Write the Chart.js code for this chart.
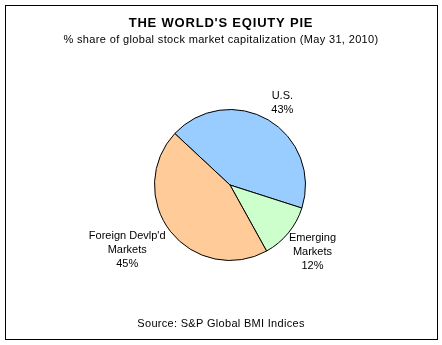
<!DOCTYPE html>
<html>
<head>
<meta charset="utf-8">
<script src="https://cdn.jsdelivr.net/npm/chart.js@4/dist/chart.umd.min.js"></script>
<style>
  html, body { margin: 0; padding: 0; background: #fff; }
  #wrap { width: 442px; height: 345px; }
</style>
</head>
<body>
<div id="wrap"><canvas id="pie"></canvas></div>
<script>
// 資料 (順序: 從左上方開始順時針)
const sliceNames = ['U.S.', 'Emerging\nMarkets', "Foreign Devlp'd\nMarkets"];
const sliceShares = [43, 12, 45];
const sliceColors = ['#99CCFF', '#CCFFCC', '#FFCC99'];

const chartTitle = "THE WORLD'S EQIUTY PIE";
const chartSubtitle = '% share of global stock market capitalization (May 31, 2010)';
const sourceNote = 'Source: S&P Global BMI Indices';

const FONT = "'Liberation Sans', Arial, sans-serif";

// 標籤微調 (像素)
const labelNudge = [[4, 3], [-1, 0], [-6, 0]];

// 標題 + 外框 + 來源 + 扇形標籤
const decorPlugin = {
  id: 'decor',
  afterDraw(chart) {
    const c = chart.ctx;
    c.save();
    // 外框
    c.strokeStyle = '#000';
    c.lineWidth = 1;
    c.strokeRect(5.5, 5.5, 432, 334);

    c.fillStyle = '#000';
    c.textAlign = 'center';
    c.textBaseline = 'middle';

    // 標題 (字距拉開)
    c.font = 'bold 13px ' + FONT;
    c.letterSpacing = '0.8px';
    c.fillText(chartTitle, 221, 23);

    c.font = '11px ' + FONT;
    c.letterSpacing = '0.35px';
    c.fillText(chartSubtitle, 221, 40);

    // 來源
    c.font = '11px ' + FONT;
    c.letterSpacing = '0.3px';
    c.fillText(sourceNote, 221, 324);

    // 扇形標籤 (放在圓外)
    c.font = '11px ' + FONT;
    c.letterSpacing = '0px';
    const meta = chart.getDatasetMeta(0);
    meta.data.forEach((arc, i) => {
      const p = arc.getProps(['x', 'y', 'startAngle', 'endAngle', 'outerRadius'], true);
      const mid = (p.startAngle + p.endAngle) / 2;
      const lines = (sliceNames[i] + '\n' + sliceShares[i] + '%').split('\n');
      const lh = 14;
      let w = 0;
      lines.forEach(l => { w = Math.max(w, c.measureText(l).width); });
      const h = lines.length * lh;
      const ax = p.x + Math.cos(mid) * (p.outerRadius + 9);
      const ay = p.y + Math.sin(mid) * (p.outerRadius + 9);
      const cx = ax + Math.cos(mid) * w / 2 + labelNudge[i][0];
      const cy = ay + Math.sin(mid) * h / 2 + labelNudge[i][1];
      lines.forEach((l, k) => {
        c.fillText(l, cx, cy - h / 2 + lh * (k + 0.5));
      });
    });
    c.restore();
  }
};

new Chart(document.getElementById('pie'), {
  type: 'pie',
  data: {
    labels: sliceNames,
    datasets: [{
      data: sliceShares,
      backgroundColor: sliceColors,
      borderColor: '#000',
      borderWidth: 1
    }]
  },
  options: {
    responsive: true,
    maintainAspectRatio: false,
    animation: false,
    rotation: -47, // 美國那一塊從左上方開始
    layout: {
      padding: { left: 154, right: 136, top: 109, bottom: 84 }
    },
    plugins: {
      legend: { display: false },
      tooltip: { enabled: false },
      title: { display: false },
      subtitle: { display: false }
    }
  },
  plugins: [decorPlugin]
});
</script>
</body>
</html>
